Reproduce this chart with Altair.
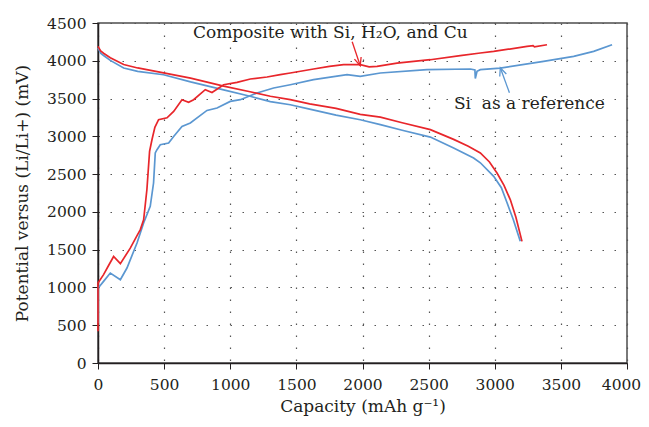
import altair as alt
import pandas as pd

# ---- data ----
red_dis_cap = [0, 20, 42, 93, 194, 300, 496, 700, 950, 1150, 1303, 1454, 1600, 1800, 1983, 2135, 2300, 2513, 2689, 2800, 2891, 2960, 3017, 3070, 3118, 3160, 3206]
red_dis_mv = [4190, 4130, 4100, 4040, 3950, 3905, 3840, 3770, 3665, 3590, 3530, 3485, 3430, 3370, 3290, 3255, 3180, 3088, 2960, 2870, 2780, 2660, 2515, 2350, 2160, 1930, 1610]

blue_dis_cap = [0, 20, 42, 93, 194, 300, 496, 700, 950, 1150, 1303, 1454, 1600, 1800, 1983, 2135, 2300, 2513, 2689, 2840, 2891, 2992, 3050, 3093, 3140, 3193]
blue_dis_mv = [4170, 4100, 4070, 4005, 3905, 3860, 3815, 3720, 3615, 3530, 3460, 3418, 3360, 3280, 3220, 3155, 3080, 2990, 2845, 2713, 2650, 2470, 2320, 2120, 1900, 1610]

red_chg_cap = [0, 0, 42, 80, 118, 169, 244, 295, 320, 345, 370, 390, 408, 430, 458, 522, 572, 635, 685, 723, 811, 862, 950, 1051, 1152, 1278, 1378, 1454, 1630, 1750, 1857, 1983, 2050, 2110, 2261, 2513, 2739, 2891, 2992, 3244, 3290, 3300, 3395]
red_chg_mv = [420, 1060, 1170, 1290, 1410, 1315, 1520, 1685, 1765, 1895, 2300, 2800, 2955, 3120, 3220, 3245, 3330, 3485, 3450, 3485, 3617, 3581, 3683, 3714, 3759, 3785, 3816, 3838, 3891, 3925, 3948, 3948, 3920, 3926, 3970, 4014, 4067, 4103, 4124, 4190, 4200, 4185, 4212]

blue_chg_cap = [0, 0, 42, 93, 169, 219, 295, 345, 395, 420, 433, 446, 471, 534, 572, 635, 698, 824, 900, 1000, 1076, 1202, 1328, 1454, 1630, 1883, 1983, 2135, 2488, 2816, 2850, 2853, 2866, 2891, 3042, 3369, 3597, 3748, 3887]
blue_chg_mv = [530, 990, 1080, 1190, 1102, 1257, 1588, 1853, 2073, 2382, 2780, 2823, 2889, 2912, 2999, 3131, 3176, 3343, 3375, 3462, 3485, 3573, 3640, 3683, 3750, 3816, 3794, 3838, 3882, 3891, 3880, 3765, 3860, 3882, 3904, 3992, 4058, 4124, 4212]

x_ticks = [0, 500, 1000, 1500, 2000, 2500, 3000, 3500, 4000]
y_ticks = [0, 500, 1000, 1500, 2000, 2500, 3000, 3500, 4000, 4500]

x_title = "Capacity (mAh g\u207b\u00b9)"
y_title = "Potential versus (Li/Li+) (mV)"
label_composite = "Composite with Si, H\u2082O, and Cu"
label_reference = "Si\u00a0 as a reference"

RED = "#e8262b"
BLUE = "#5b97d1"
FONT = "DejaVu Serif"

rows = []
for name, color, caps, mvs in [
    ("blue_dis", "blue", blue_dis_cap, blue_dis_mv),
    ("blue_chg", "blue", blue_chg_cap, blue_chg_mv),
    ("red_dis", "red", red_dis_cap, red_dis_mv),
    ("red_chg", "red", red_chg_cap, red_chg_mv),
]:
    for i, (c, v) in enumerate(zip(caps, mvs)):
        rows.append({"curve": name, "color": color, "cap": c, "mv": v, "i": i})
df = pd.DataFrame(rows)

xs = alt.Scale(domain=[0, 4000], nice=False, zero=False)
ys = alt.Scale(domain=[0, 4500], nice=False, zero=False)
cs = alt.Scale(domain=["red", "blue"], range=[RED, BLUE])
x_axis = alt.Axis(values=x_ticks, format="d", labelFlush=False, labelOverlap=False,
                  labelOffset={"condition": {"test": "datum.value == 4000", "value": -6}, "value": 0})
y_axis = alt.Axis(values=y_ticks, format="d", labelFlush=False, labelOverlap=False)


def X(field):
    return alt.X(field, scale=xs, title=x_title, axis=x_axis)


def Y(field):
    return alt.Y(field, scale=ys, title=y_title, axis=y_axis)


lines = alt.Chart(df).mark_line(strokeWidth=1.7).encode(
    x=X("cap:Q"),
    y=Y("mv:Q"),
    color=alt.Color("color:N", scale=cs, legend=None),
    detail="curve:N",
    order="i:Q",
)

# annotations
ann_text = pd.DataFrame({
    "cap": [1757, 3262],
    "mv": [4371, 3431],
    "label": [label_composite, label_reference],
})
texts = alt.Chart(ann_text).mark_text(font=FONT, fontSize=17, color="#231f20", baseline="middle").encode(
    x=X("cap:Q"), y=Y("mv:Q"), text="label:N",
)

arrows = pd.DataFrame({
    "cap": [1922, 3111],
    "mv": [4252, 3577],
    "cap2": [1983, 3042],
    "mv2": [3935, 3908],
    "color": ["red", "blue"],
    "angle": [342, 160],
})
arrow_lines = alt.Chart(arrows).mark_rule(strokeWidth=1.3).encode(
    x=X("cap:Q"), y=Y("mv:Q"),
    x2="cap2:Q", y2="mv2:Q",
    color=alt.Color("color:N", scale=cs, legend=None),
)
arrow_heads = alt.Chart(arrows).mark_point(
    shape="M -0.7 -1.6 L 0 0 L 0.7 -1.6", filled=False, strokeWidth=1.3, size=100, opacity=1
).encode(
    x=X("cap2:Q"), y=Y("mv2:Q"),
    angle=alt.Angle("angle:Q", scale=None),
    color=alt.Color("color:N", scale=cs, legend=None),
)

chart = alt.layer(lines, arrow_lines, arrow_heads, texts).properties(
    width=529, height=340,
    autosize=alt.AutoSizeParams(type="none"),
    padding={"left": 90, "top": 15, "right": 14, "bottom": 55},
).configure_view(
    stroke="#4d4d4d", strokeWidth=1.5
).configure_axis(
    labelFont=FONT, titleFont=FONT, labelFontSize=15.5, titleFontSize=17,
    labelColor="#231f20", titleColor="#231f20", titleFontWeight="normal",
    domainColor="#231f20", domainWidth=1.5, tickColor="#231f20", tickSize=6,
    grid=True, gridColor="#555555", gridDash=[1.5, 10.5], gridWidth=1.2,
    labelPadding=6,
).configure_axisX(
    titlePadding=6, labelPadding=8,
).configure_axisY(
    titlePadding=15,
)

chart.save("out.html", embed_options={"renderer": "svg", "actions": False})
